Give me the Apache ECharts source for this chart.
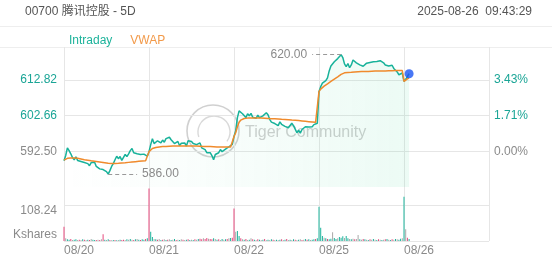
<!DOCTYPE html>
<html><head><meta charset="utf-8">
<script src="https://cdn.jsdelivr.net/npm/echarts@6/dist/echarts.min.js"></script>
<style>html,body{margin:0;padding:0;background:#fff;}#c{width:552px;height:265px;}</style>
</head><body><div id="c"></div>
<script>
// ---------- data ----------
const titleText = '00700 腾讯控股 - 5D';
const timestampText = '2025-08-26  09:43:29';
const days = ['08/20', '08/21', '08/22', '08/25', '08/26'];
const prevClose = 592.50;
const priceTicks = [592.50, 602.66, 612.82];
const volumeTick = 108.24;

const price0820 = [589.8,591.3,593.5,592.7,591.8,590.7,590.1,590.9,589.9,590.1,
  589.6,590.0,589.3,589.6,589.0,588.4,589.3,588.9,589.4,588.2,
  588.7,587.5,587.9,587.3,587.7,586.7,586.0,587.0,588.2,589.0,
  590.1,591.1,590.4,591.0,589.9,590.4,591.6,591.0,591.8,592.7,
  593.3,592.1,592.6,591.8,592.2,591.6,592.1,591.7,592.0,591.1];
const price0821 = [592.4,594.4,596.1,594.7,594.3,595.5,595.3,594.9,595.7,595.1,
  596.1,596.0,596.5,595.8,596.3,594.7,594.9,595.3,594.1,594.8,
  594.4,594.9,594.0,595.5,595.0,595.3,594.7,595.1,594.4,593.9,
  594.9,593.5,593.3,593.0,592.1,592.4,592.1,591.3,590.1,591.6,
  591.3,592.1,593.0,592.4,592.8,593.1,592.7,593.8,593.6,594.5];
const price0822 = [596.7,598.4,602.1,604.0,603.8,603.2,603.5,602.1,603.2,602.6,
  603.3,602.2,602.6,601.9,602.8,602.1,601.8,602.6,602.2,603.5,
  602.9,601.6,600.8,601.0,600.4,600.6,599.8,600.9,600.2,600.6,
  599.6,600.1,599.2,599.6,600.5,599.8,598.8,597.8,598.5,597.7,
  598.7,598.2,599.5,599.1,599.4,599.7,599.5,600.1,599.9,600.5];
const price0825 = [609.5,610.9,611.9,611.4,612.6,613.4,615.4,616.8,616.5,618.0,
  617.7,618.9,619.2,620.0,619.2,617.4,616.6,617.5,616.3,617.1,
  618.5,618.9,617.7,618.1,617.1,617.6,616.7,617.1,617.6,617.4,
  617.8,617.3,618.0,617.6,618.1,618.5,618.3,618.7,617.7,617.1,
  617.6,616.8,616.6,617.0,616.1,615.7,615.1,614.3,614.7,614.8];
const price0826 = [612.4,613.0,613.8,614.6];

const vwap0820 = [590.0,590.3,590.5,590.6,590.6,590.6,590.6,590.6,590.5,590.4,
  590.3,590.2,590.1,590.0,589.95,589.9,589.8,589.75,589.7,589.6,
  589.55,589.5,589.4,589.35,589.25,589.15,589.1,589.0,589.0,589.0,
  589.05,589.05,589.1,589.15,589.2,589.2,589.25,589.3,589.35,589.4,
  589.45,589.5,589.55,589.6,589.65,589.7,589.75,589.8,589.8,589.85];
const vwap0821 = [592.4,592.9,593.3,593.5,593.6,593.7,593.75,593.8,593.85,593.9,
  593.9,593.95,593.95,594.0,594.0,594.0,594.0,594.0,594.0,594.0,
  594.0,594.0,594.0,594.0,594.0,594.0,594.0,594.0,594.0,593.95,
  593.95,593.95,593.9,593.9,593.9,593.85,593.85,593.8,593.8,593.75,
  593.75,593.75,593.7,593.7,593.7,593.7,593.7,593.7,593.7,593.7];
const vwap0822 = [596.7,597.8,599.5,600.8,601.4,601.7,601.85,601.9,601.95,601.95,
  602.0,602.0,602.0,602.0,601.95,601.95,601.95,601.9,601.9,601.9,
  601.85,601.85,601.8,601.8,601.75,601.7,601.7,601.65,601.6,601.6,
  601.55,601.5,601.5,601.45,601.4,601.4,601.35,601.3,601.25,601.2,
  601.15,601.1,601.05,601.0,600.95,600.9,600.85,600.8,600.75,600.7];
const vwap0825 = [609.5,610.2,610.7,611.05,611.4,611.7,612.05,612.4,612.7,613.05,
  613.4,613.7,614.05,614.4,614.75,614.85,614.9,614.95,615.0,615.0,
  615.05,615.1,615.1,615.15,615.15,615.2,615.2,615.2,615.25,615.25,
  615.3,615.3,615.3,615.35,615.35,615.35,615.4,615.4,615.4,615.4,
  615.45,615.45,615.45,615.45,615.5,615.5,615.5,615.5,615.5,615.5];
const vwap0826 = [612.4,612.7,613.1,613.4];

// volume in Kshares
const vol0820 = [43,8,5,4,6,3,4,5,3,4, 3,5,4,3,4,3,6,4,3,3, 4,3,5,20,4,3,5,3,2,3, 3,2,3,4,3,4,3,5,4,6, 4,3,5,6,4,3,5,4,6,8];
const vol0821 = [158,28,12,6,5,4,6,3,4,5, 3,4,5,3,4,6,3,4,3,5, 4,3,4,5,3,4,3,5,4,6, 7,5,8,6,9,7,6,5,8,6, 4,5,3,6,4,5,6,8,9,10];
const vol0822 = [98,28,30,15,8,5,4,6,3,4, 8,5,4,3,5,4,3,4,6,3, 4,3,5,4,3,4,3,4,5,3, 4,6,3,4,3,5,4,3,4,5, 3,4,6,4,5,3,4,5,6,8];
const vol0825 = [103,40,15,10,8,6,5,7,26,9, 6,8,12,10,14,9,15,8,6,5, 7,5,6,18,5,4,6,5,4,3, 5,4,6,4,3,5,4,3,4,5, 6,4,3,5,4,6,5,4,7,8];
const vol0826 = [133,35,10,6];
// trade direction per bar: u = up, d = down, n = neutral
const dir0820 = 'dnuudnuund' + 'nudnudnuud' + 'ndndunudnu' + 'dunuddnunu' + 'ndunuduudu';
const dir0821 = 'duunudnudn' + 'udnunudnun' + 'dnudunudnu' + 'ddnddnddun' + 'udnunudnud';
const dir0822 = 'dnuudnudnu' + 'ndundunudn' + 'unudnunudn' + 'udnunudnun' + 'dnudunuudu';
const dir0825 = 'uuunuduunu' + 'unuuunuunu' + 'ndnnundunu' + 'dnunudnund' + 'unudnunuun';
const dir0826 = 'undu';

// ---------- build ----------
const SLOTS = 50;
const priceDays = [price0820, price0821, price0822, price0825, price0826];
const vwapDays = [vwap0820, vwap0821, vwap0822, vwap0825, vwap0826];
const volDays = [vol0820, vol0821, vol0822, vol0825, vol0826];
const dirDays = [dir0820, dir0821, dir0822, dir0825, dir0826];

const cats = [];
days.forEach(d => { for (let i = 0; i < SLOTS; i++) cats.push(d + '|' + i); });
cats.push('end|0');
const total = cats.length;
const priceData = new Array(total).fill(null);
const vwapData = new Array(total).fill(null);
const volData = new Array(total).fill('-');
days.forEach((d, k) => {
  priceDays[k].forEach((v, i) => { priceData[k * SLOTS + i] = v; });
  vwapDays[k].forEach((v, i) => { vwapData[k * SLOTS + i] = v; });
  volDays[k].forEach((v, i) => { volData[k * SLOTS + i] = { value: v, dir: dirDays[k][i] }; });
});
let maxIdx = 0, minIdx = 0, lastIdx = 0;
priceData.forEach((v, i) => {
  if (v == null) return;
  lastIdx = i;
  if (v > priceData[maxIdx]) maxIdx = i;
  if (v < priceData[minIdx]) minIdx = i;
});
const maxVal = priceData[maxIdx], minVal = priceData[minIdx];
const dotData = new Array(total).fill('-');
dotData[lastIdx] = priceData[lastIdx];

const tickStep = priceTicks[1] - priceTicks[0];
const yMin = priceTicks[0] - tickStep;
const yMax = 622.2;
const volMax = volumeTick * 1.5;

const FONT = 'Arial, "Liberation Sans", "Noto Sans CJK SC", sans-serif';
const TEAL = '#1aa596';
const GRAY = '#8a8a8a';
const GRID_C = '#e6e6e6';
const NONE = 'rgba(0,0,0,0)';
const dirColor = { u: '#1cb39b', d: '#e5487c', n: '#a8a8a8' };

const chart = echarts.init(document.getElementById('c'));
chart.setOption({
  animation: false,
  textStyle: { fontFamily: FONT },
  title: [
    { text: titleText, left: 20, top: 1, textStyle: { fontSize: 12, fontWeight: 'normal', color: '#555', fontFamily: FONT } },
    { text: timestampText, right: 15, top: 1, textStyle: { fontSize: 12, fontWeight: 'normal', color: '#555', fontFamily: FONT } }
  ],
  legend: {
    left: 59, top: 29, itemWidth: 0, itemHeight: 14, itemGap: 13, icon: 'rect',
    selectedMode: false,
    data: [
      { name: 'Intraday', textStyle: { color: '#1db39b', fontSize: 12, fontFamily: FONT } },
      { name: 'VWAP', textStyle: { color: '#f29a4a', fontSize: 12, fontFamily: FONT } }
    ]
  },
  graphic: [
    { type: 'line', shape: { x1: 0, y1: 26.5, x2: 552, y2: 26.5 }, style: { stroke: '#eeeeee', lineWidth: 1 }, silent: true },
    { type: 'line', shape: { x1: 0, y1: 47.5, x2: 552, y2: 47.5 }, style: { stroke: '#eeeeee', lineWidth: 1 }, silent: true },
    { type: 'group', z: 100, silent: true, children: [
      { type: 'circle', shape: { cx: 213, cy: 131, r: 26 }, style: { fill: 'none', stroke: 'rgba(170,170,170,0.55)', lineWidth: 1.6 } },
      { type: 'arc', shape: { cx: 214, cy: 132, r: 16, startAngle: Math.PI * 0.9, endAngle: Math.PI * 2.2 }, style: { fill: 'none', stroke: 'rgba(170,170,170,0.45)', lineWidth: 1.4 } },
      { type: 'text', x: 245, y: 133, style: { text: 'Tiger Community', fill: 'rgba(175,175,175,0.6)', font: '16px ' + FONT, verticalAlign: 'middle', align: 'left' } }
    ] }
  ],
  grid: [
    { left: 64, right: 63, top: 47, height: 140 },
    { left: 64, right: 63, top: 187, height: 54 }
  ],
  xAxis: [
    { gridIndex: 0, type: 'category', data: cats, boundaryGap: false,
      axisLine: { show: false }, axisTick: { show: false }, axisLabel: { show: false },
      splitLine: { show: true, interval: (i) => i % SLOTS === 0, lineStyle: { color: GRID_C, width: 1 } } },
    { gridIndex: 1, type: 'category', data: cats, boundaryGap: false,
      axisLine: { show: false }, axisTick: { show: false },
      axisLabel: { show: true, interval: (i) => i % SLOTS === 0 && i < total - 1, formatter: (v) => v.split('|')[0],
        align: 'left', color: GRAY, fontSize: 12, margin: 4, fontFamily: FONT },
      splitLine: { show: true, interval: (i) => i % SLOTS === 0, lineStyle: { color: GRID_C, width: 1 } } }
  ],
  yAxis: [
    { gridIndex: 0, type: 'value', position: 'left', min: yMin, max: yMax, interval: tickStep,
      axisLine: { show: false }, axisTick: { show: false },
      splitLine: { show: true, lineStyle: { color: [NONE, GRID_C, GRID_C, GRID_C, NONE], width: 1 } },
      axisLabel: { margin: 7, fontSize: 12, fontFamily: FONT, showMaxLabel: false, showMinLabel: false,
        formatter: (v) => {
          if (v < prevClose - 0.01 || v > priceTicks[priceTicks.length - 1] + 0.01) return '';
          const s = v.toFixed(2);
          return Math.abs(v - prevClose) < 0.01 ? '{g|' + s + '}' : '{t|' + s + '}';
        },
        rich: { g: { color: GRAY, fontSize: 12, fontFamily: FONT }, t: { color: TEAL, fontSize: 12, fontFamily: FONT } } } },
    { gridIndex: 0, type: 'value', position: 'right', min: yMin, max: yMax, interval: tickStep,
      axisLine: { show: false }, axisTick: { show: false }, splitLine: { show: false },
      axisLabel: { margin: 5, fontSize: 12, fontFamily: FONT, showMaxLabel: false, showMinLabel: false,
        formatter: (v) => {
          if (v < prevClose - 0.01 || v > priceTicks[priceTicks.length - 1] + 0.01) return '';
          const s = ((v - prevClose) / prevClose * 100).toFixed(2) + '%';
          return Math.abs(v - prevClose) < 0.01 ? '{g|' + s + '}' : '{t|' + s + '}';
        },
        rich: { g: { color: GRAY, fontSize: 12, fontFamily: FONT }, t: { color: TEAL, fontSize: 12, fontFamily: FONT } } } },
    { gridIndex: 1, type: 'value', position: 'left', min: 0, max: volMax, interval: volumeTick,
      axisLine: { show: false }, axisTick: { show: false },
      splitLine: { show: true, lineStyle: { color: [GRID_C, GRID_C, NONE], width: 1 } },
      axisLabel: { margin: 7, fontSize: 12, color: GRAY, fontFamily: FONT, verticalAlign: 'top', showMaxLabel: false,
        formatter: (v) => Math.abs(v - volumeTick) < 0.01 ? v.toFixed(2) : '' } },
    { gridIndex: 1, type: 'value', position: 'left', min: 0, max: volMax, interval: volumeTick,
      axisLine: { show: false }, axisTick: { show: false }, splitLine: { show: false },
      axisLabel: { margin: 7, fontSize: 12, color: GRAY, fontFamily: FONT, verticalAlign: 'bottom', showMaxLabel: false,
        formatter: (v) => v === 0 ? 'Kshares' : '' } }
  ],
  series: [
    { name: 'Intraday', type: 'line', xAxisIndex: 0, yAxisIndex: 0, data: priceData,
      showSymbol: false, symbol: 'none', connectNulls: false,
      lineStyle: { color: '#17b29a', width: 1.5 }, itemStyle: { color: '#17b29a' },
      areaStyle: { origin: 'start', color: new echarts.graphic.LinearGradient(0, 0, 1, 0, [
        { offset: 0, color: 'rgba(46,208,140,0.0)' },
        { offset: 0.5, color: 'rgba(46,208,140,0.05)' },
        { offset: 1, color: 'rgba(46,208,140,0.13)' }]) },
      markLine: {
        silent: true, symbol: ['none', 'none'], animation: false,
        lineStyle: { color: '#999', type: [4, 3], width: 1.2 },
        label: { show: true, position: 'end', distance: 5, color: GRAY, fontSize: 12, fontFamily: FONT,
          formatter: (p) => Number(p.value).toFixed(2) },
        emphasis: { disabled: true },
        data: [
          [{ coord: [maxIdx, maxVal], value: maxVal }, { coord: [maxIdx - 17, maxVal], value: maxVal }],
          [{ coord: [minIdx, minVal], value: minVal }, { coord: [minIdx + 17, minVal], value: minVal }]
        ]
      } },
    { name: 'VWAP', type: 'line', xAxisIndex: 0, yAxisIndex: 0, data: vwapData,
      showSymbol: false, symbol: 'none',
      lineStyle: { color: '#f08a2c', width: 1.5 }, itemStyle: { color: '#f08a2c' } },
    { name: 'last', type: 'scatter', xAxisIndex: 0, yAxisIndex: 0, data: dotData,
      symbolSize: 9, itemStyle: { color: '#1a55f2' }, z: 5 },
    { name: 'Volume', type: 'bar', xAxisIndex: 1, yAxisIndex: 2, data: volData,
      barWidth: 1, barGap: '0%',
      itemStyle: { color: (p) => (p.data && p.data.dir) ? dirColor[p.data.dir] : 'rgba(0,0,0,0)' } }
  ]
});
</script>
</body></html>
